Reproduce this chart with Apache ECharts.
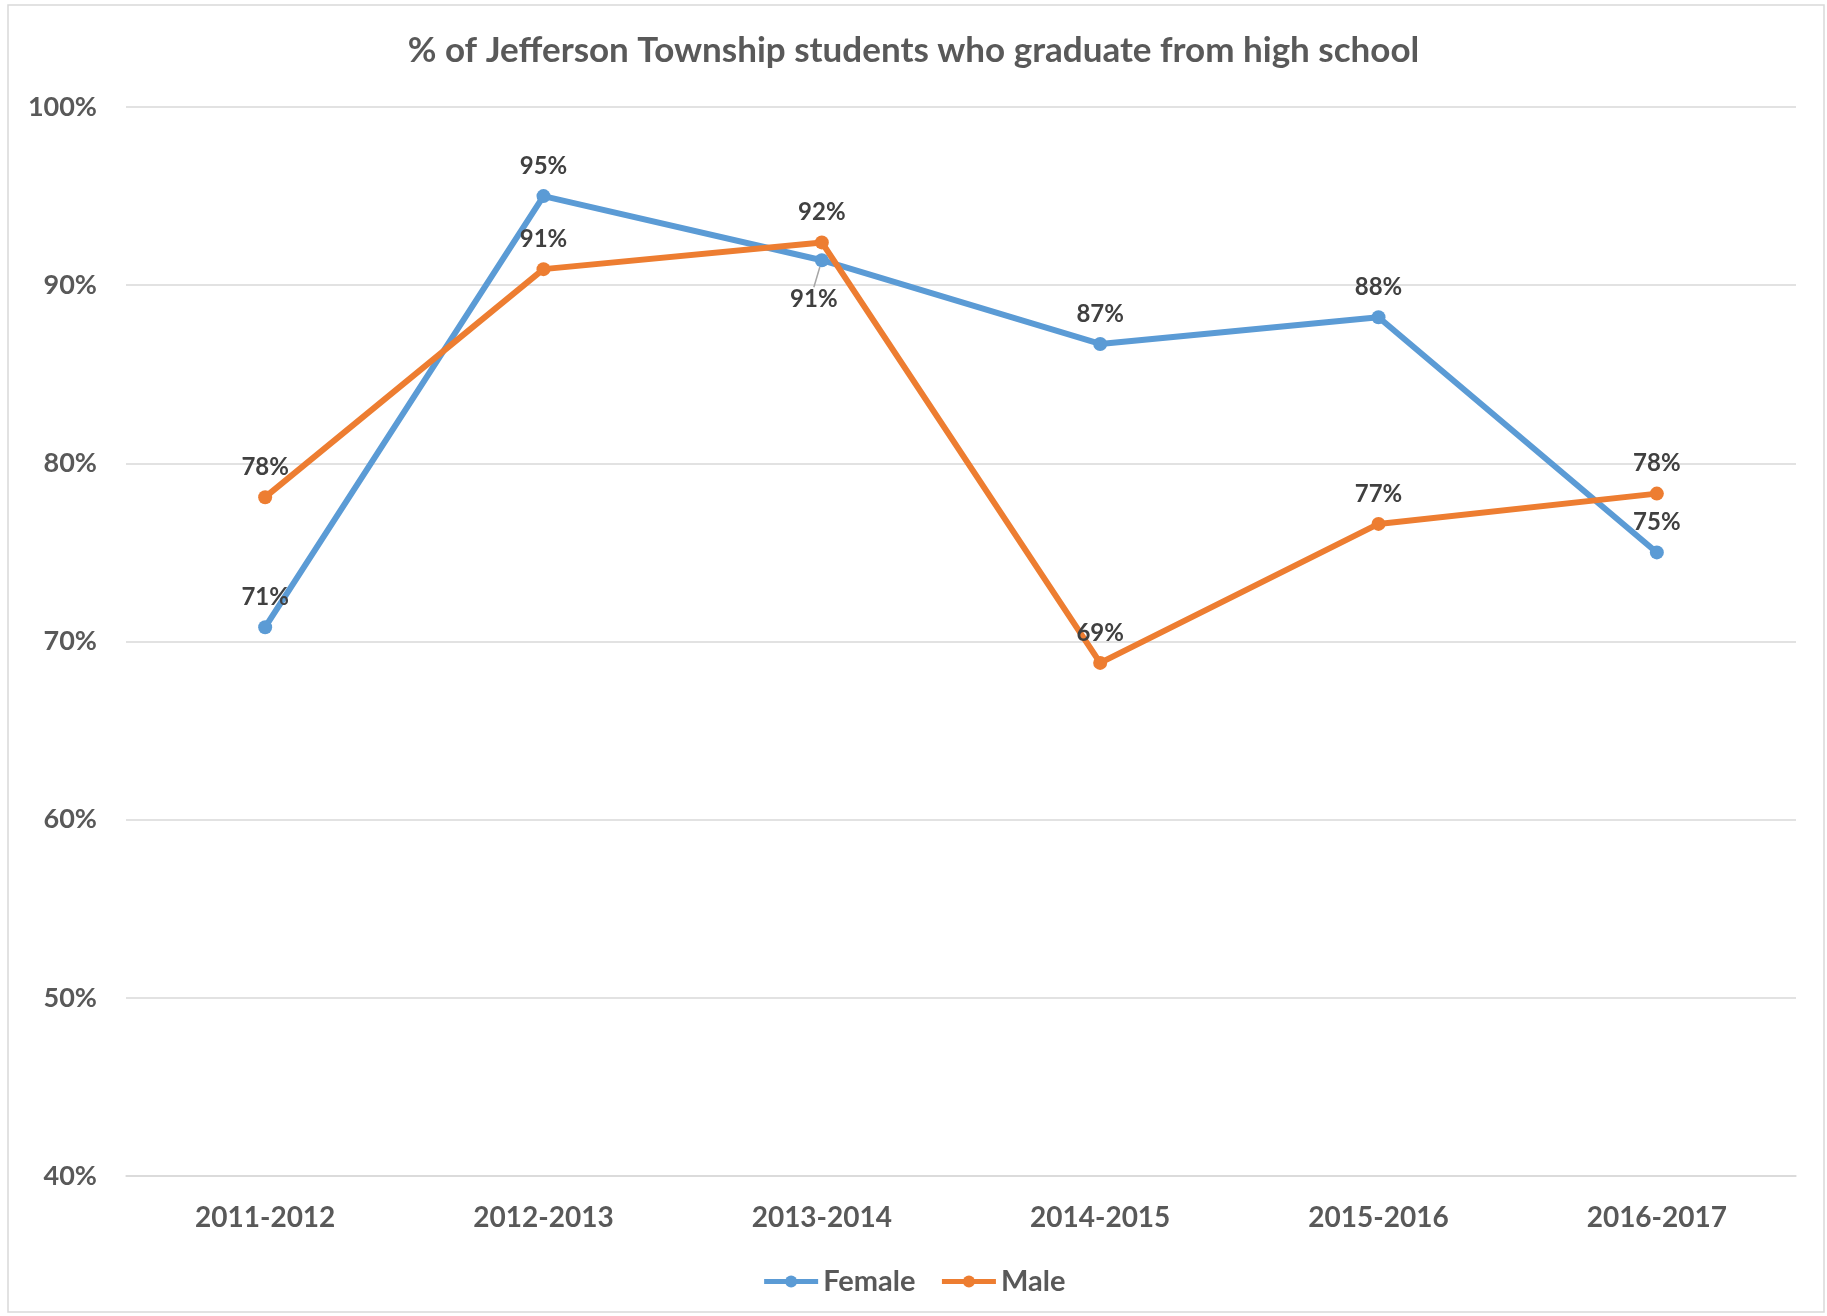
<!DOCTYPE html>
<html>
<head>
<meta charset="utf-8">
<script src="https://cdn.jsdelivr.net/npm/echarts@6/dist/echarts.min.js"></script>
<style>
html,body{margin:0;padding:0;background:#fff;}
#chart{width:1827px;height:1316px;}
</style>
</head>
<body>
<div id="chart"></div>
<script>
const titleText = '% of Jefferson Township students who graduate from high school';
const categories = ['2011-2012', '2012-2013', '2013-2014', '2014-2015', '2015-2016', '2016-2017'];
const femaleValues = [70.8, 95.0, 91.4, 86.7, 88.2, 75.0];
const maleValues = [78.1, 90.9, 92.4, 68.8, 76.6, 78.3];
const yMin = 40, yMax = 100, yInterval = 10;

const chart = echarts.init(document.getElementById('chart'));
const FONT = 'Lato';
const labelCommon = {
  show: true,
  position: 'top',
  distance: 11,
  color: '#404040',
  fontFamily: FONT,
  fontWeight: 'bold',
  fontSize: 24,
  formatter: p => Math.round(p.value) + '%'
};

const option = {
  backgroundColor: '#fff',
  animation: false,
  graphic: [{
    type: 'rect',
    shape: {x: 8, y: 5, width: 1816, height: 1307},
    style: {fill: 'none', stroke: '#d9d9d9', lineWidth: 1.5},
    silent: true
  }],
  title: {
    text: titleText,
    left: 'center',
    top: 28,
    textStyle: {color: '#595959', fontFamily: FONT, fontWeight: 'bold', fontSize: 35}
  },
  legend: {
    data: ['Female', 'Male'],
    left: 'center',
    top: 1262,
    itemWidth: 54,
    itemHeight: 15,
    itemGap: 24,
    lineStyle: {width: 5},
    textStyle: {color: '#595959', fontFamily: FONT, fontWeight: 'bold', fontSize: 29}
  },
  grid: {left: 126, right: 31, top: 107, bottom: 140, containLabel: false},
  xAxis: {
    type: 'category',
    data: categories,
    boundaryGap: true,
    axisLine: {show: true, lineStyle: {color: '#d9d9d9', width: 1.5}},
    axisTick: {show: false},
    axisLabel: {color: '#595959', fontFamily: FONT, fontWeight: 'bold', fontSize: 28, margin: 28}
  },
  yAxis: {
    type: 'value',
    min: yMin,
    max: yMax,
    interval: yInterval,
    axisLine: {show: false},
    axisTick: {show: false},
    splitLine: {lineStyle: {color: '#d9d9d9', width: 1.5}},
    axisLabel: {color: '#595959', fontFamily: FONT, fontWeight: 'bold', fontSize: 27, margin: 29,
      formatter: '{value}%'}
  },
  series: [
    {
      name: 'Female',
      type: 'line',
      data: femaleValues.map((v, i) => i === 2 ? {
        value: v,
        label: {position: 'bottom', distance: 6},
        labelLine: {show: true, lineStyle: {color: '#a6a6a6', width: 1.5}}
      } : v),
      color: '#5b9bd5',
      lineStyle: {width: 6, color: '#5b9bd5'},
      itemStyle: {color: '#5b9bd5'},
      symbol: 'circle',
      symbolSize: 14,
      label: labelCommon,
      labelLine: {show: false},
      labelLayout: p => p.dataIndex === 2 ? {dx: -8, dy: 14} : {},
      z: 2
    },
    {
      name: 'Male',
      type: 'line',
      data: maleValues,
      color: '#ed7d31',
      lineStyle: {width: 6, color: '#ed7d31'},
      itemStyle: {color: '#ed7d31'},
      symbol: 'circle',
      symbolSize: 14,
      label: labelCommon,
      z: 3
    }
  ]
};
chart.setOption(option);
</script>
</body>
</html>
